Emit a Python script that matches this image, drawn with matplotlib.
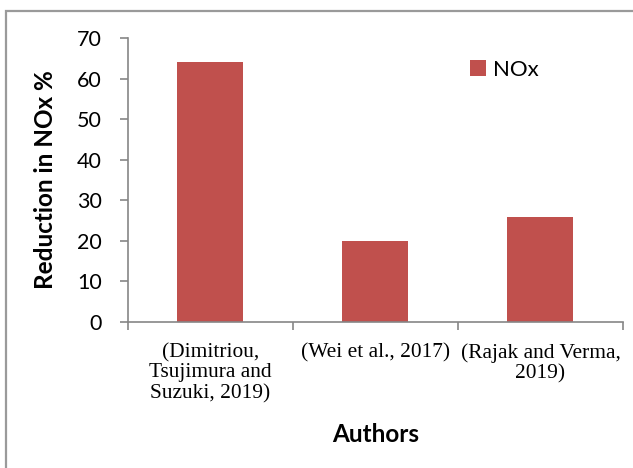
import matplotlib.pyplot as plt
from matplotlib.patches import Rectangle

# Reported NOx reductions by study
authors = [
    "(Dimitriou,\nTsujimura and\nSuzuki, 2019)",
    "(Wei et al., 2017)",
    "(Rajak and Verma,\n2019)",
]
nox_reduction = [64, 20, 26]
y_ticks = [0, 10, 20, 30, 40, 50, 60, 70]

BAR_COLOR = "#C0504D"
AXIS_COLOR = "#868686"

fig = plt.figure(figsize=(6.33, 4.68), dpi=100)
ax = fig.add_axes([0.2022, 0.312, 0.782, 0.6068])

x = list(range(len(authors)))
ax.bar(x, nox_reduction, width=0.4, color=BAR_COLOR, label="NOx")

ax.set_xlim(-0.5, len(authors) - 0.5)
ax.set_ylim(0, 70)
ax.set_yticks(y_ticks)

# category ticks sit between the bars, labels under the bars
ax.set_xticks([i - 0.5 for i in range(len(authors) + 1)])
ax.set_xticklabels([])
ax.set_xticks(x, minor=True)
ax.set_xticklabels(authors, minor=True, family="Liberation Serif",
                   fontsize=15.4, linespacing=1.1, va="top")
ax.tick_params(axis="x", which="minor", length=0, pad=15)
ax.tick_params(axis="x", which="major", length=6, width=1.2,
               color=AXIS_COLOR, direction="out")
ax.tick_params(axis="y", length=6, width=1.2, color=AXIS_COLOR,
               direction="out", pad=13, labelsize=15.5)
for lab in ax.get_yticklabels():
    lab.set_family("Lato")

for side in ("top", "right"):
    ax.spines[side].set_visible(False)
for side in ("left", "bottom"):
    ax.spines[side].set_color(AXIS_COLOR)
    ax.spines[side].set_linewidth(1.2)

ax.set_ylabel("Reduction in NOx %", family="Lato", fontweight="bold",
              fontsize=17.5, labelpad=14)
ax.set_xlabel("Authors", family="Lato", fontweight="bold", fontsize=17.5,
              labelpad=14)

ax.legend(loc="center left", bbox_to_anchor=(0.669, 0.887), frameon=False,
          borderpad=0, handlelength=0.72, handleheight=0.72,
          handletextpad=0.3, prop={"family": "Lato", "size": 16})

# outer chart border (only top and left edges fall inside the image)
fig.patches.append(Rectangle((0.0087, -0.1), 1.2, 1.0765, transform=fig.transFigure,
                             fill=False, edgecolor="#9a9a9a", linewidth=1.6))

fig.savefig("out.png", dpi=100)
